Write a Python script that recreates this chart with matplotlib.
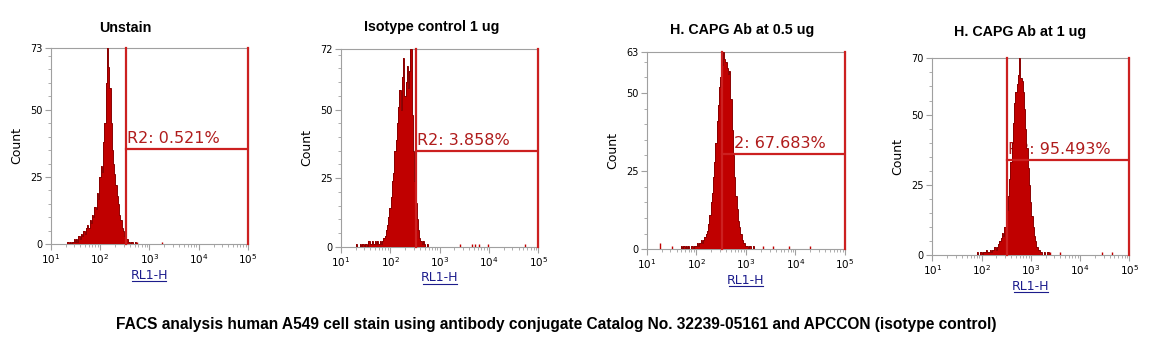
import matplotlib.pyplot as plt
import numpy as np
from matplotlib.ticker import MultipleLocator, LogLocator, NullFormatter

# histogram channels: log10(RL1-H) of first bin, bin width in decades, counts
bin_step = 0.025

unstain_start = 1.30
unstain_counts = [0, 0, 1, 0, 1, 0, 1, 2, 1, 2, 1, 3, 2, 4, 3, 5, 4, 6, 7, 6,
                  9, 8, 11, 10, 14, 13, 19, 17, 25, 29, 27, 38, 45, 60, 73, 66, 58, 45, 35, 30,
                  26, 22, 18, 15, 11, 9, 6, 5, 3, 2, 2, 1, 1, 0, 1, 0, 0, 1, 0, 0, 0]
unstain_events = [2.74, 3.25]
unstain_event_counts = [1, 1]

isotype_start = 1.30
isotype_counts = [0, 1, 0, 0, 1, 0, 1, 0, 1, 1, 0, 2, 1, 1, 2, 1, 2, 1, 2, 1,
                  2, 1, 2, 3, 4, 6, 8, 11, 14, 18, 24, 27, 35, 39, 45, 51, 57, 50, 62, 69,
                  55, 60, 66, 58, 64, 72, 48, 35, 24, 16, 10, 6, 3, 2, 1, 2, 1, 0, 1, 0, 0]
isotype_events = [3.41, 3.65, 3.72, 3.80, 3.99, 4.73]
isotype_event_counts = [1, 1, 1, 1, 1, 1]

capg05_start = 1.70
capg05_counts = [1, 0, 1, 0, 1, 0, 1, 0, 1, 1, 0, 1, 1, 2, 1, 2, 3, 2, 3, 4,
                 5, 6, 8, 11, 15, 18, 23, 28, 34, 41, 46, 52, 55, 59, 63, 61, 60, 58, 56, 57,
                 48, 38, 30, 23, 17, 13, 9, 7, 5, 3, 2, 2, 1, 1, 0, 1, 1, 0, 1, 0, 0]
capg05_events = [1.27, 1.52, 3.35, 3.55, 3.87, 4.29]
capg05_event_counts = [2, 1, 1, 1, 1, 1]

capg1_start = 1.90
capg1_counts = [0, 1, 0, 1, 1, 0, 1, 1, 2, 1, 1, 2, 1, 2, 2, 3, 2, 3, 4, 5,
                6, 8, 7, 10, 12, 16, 21, 27, 33, 40, 47, 54, 58, 61, 64, 70, 63, 62, 58, 52,
                45, 38, 31, 25, 19, 14, 10, 7, 5, 3, 2, 2, 1, 1, 0, 1, 0, 0, 1, 0, 0]
capg1_events = [3.39, 3.59, 4.44, 4.64]
capg1_event_counts = [1, 1, 1, 1]

titles = ["Unstain", "Isotype control 1 ug", "H. CAPG Ab at 0.5 ug", "H. CAPG Ab at 1 ug"]
y_max = [73, 72, 63, 70]
gate_low = [10 ** 2.525, 10 ** 2.52, 10 ** 2.515, 10 ** 2.51]
gate_level = [35.4, 34.9, 30.6, 33.9]
gate_text = ["R2: 0.521%", "R2: 3.858%", "R2: 67.683%", "R2: 95.493%"]

panels = [
    (unstain_start, unstain_counts, unstain_events, unstain_event_counts),
    (isotype_start, isotype_counts, isotype_events, isotype_event_counts),
    (capg05_start, capg05_counts, capg05_events, capg05_event_counts),
    (capg1_start, capg1_counts, capg1_events, capg1_event_counts),
]

W, H = 1173, 353
# axes boxes in pixels: left, right, top, bottom
boxes = [(50.7, 248, 47.7, 244.3), (340.7, 538.3, 49.3, 246.7),
         (646.7, 845, 52.3, 249.3), (932.3, 1129.3, 58.3, 255.3)]
title_pos = [(125, 28), (432, 27), (742, 30), (1020, 32)]

hist_fill = '#c00000'
hist_edge = '#8a0000'
gate_col = '#cc2020'
grey = '#a0a0a0'
navy = '#1c1c8c'

fig = plt.figure(figsize=(W / 100, H / 100), dpi=100)

for i, (start, counts, ev, evc) in enumerate(panels):
    l, r, t, b = boxes[i]
    ax = fig.add_axes([l / W, 1 - b / H, (r - l) / W, (b - t) / H])
    ax.set_xscale('log')

    n = len(counts)
    edges = 10 ** (start + bin_step * (np.arange(n + 1) - 0.5))
    ax.stairs(counts, edges, fill=True, color=hist_fill, zorder=3)
    ax.stairs(counts, edges, color=hist_edge, lw=0.7, zorder=3)
    ax.vlines(10 ** np.array(ev), 0, evc, color=hist_fill, lw=1.0, zorder=3)

    # R2 gate
    ax.plot([gate_low[i], gate_low[i]], [0, y_max[i]], color=gate_col, lw=1.6, zorder=4, clip_on=False)
    ax.plot([1e5, 1e5], [0, y_max[i]], color=gate_col, lw=1.6, zorder=4, clip_on=False)
    ax.plot([gate_low[i], 1e5], [gate_level[i], gate_level[i]], color=gate_col, lw=1.6, zorder=4)
    ax.annotate(gate_text[i], (gate_low[i], gate_level[i]), xytext=(1, 2), textcoords='offset points',
                color='#b01c1c', fontsize=11.5, ha='left', va='bottom', zorder=2)

    ax.set_xlim(10, 1e5)
    ax.set_ylim(0, y_max[i])
    ax.set_yticks([0, 25, 50, y_max[i]])
    ax.yaxis.set_minor_locator(MultipleLocator(5))
    ax.xaxis.set_major_locator(LogLocator(base=10, numticks=10))
    ax.xaxis.set_minor_locator(LogLocator(base=10, subs=np.arange(2, 10), numticks=10))
    ax.xaxis.set_minor_formatter(NullFormatter())
    ax.tick_params(which='major', length=4, width=0.8, color=grey, labelsize=7, pad=2)
    ax.tick_params(which='minor', length=2, width=0.6, color=grey)
    ax.tick_params(axis='x', labelsize=7.5, pad=2)
    for s in ax.spines.values():
        s.set_color(grey)
        s.set_linewidth(0.8)

    ax.set_ylabel('Count', fontsize=9, labelpad=5)

    # underlined axis label
    cx = (l + r) / 2
    fig.text(cx / W, 1 - (b + 31) / H, 'RL1-H', ha='center', va='center', fontsize=9, color=navy)
    uy = b + 37
    fig.add_artist(plt.Line2D([(cx - 17) / W, (cx + 17) / W], [1 - uy / H, 1 - uy / H],
                              color=navy, lw=0.8))

    tx, ty = title_pos[i]
    fig.text(tx / W, 1 - ty / H, titles[i], ha='center', va='center',
             fontsize=10.3, fontweight='bold', family='Liberation Sans')

fig.text(556 / W, 1 - 324 / H,
         'FACS analysis human A549 cell stain using antibody conjugate Catalog No. 32239-05161 and APCCON (isotype control)',
         ha='center', va='center', fontsize=11.2, fontweight='bold', family='Liberation Sans')

fig.savefig('out.png', dpi=100)
